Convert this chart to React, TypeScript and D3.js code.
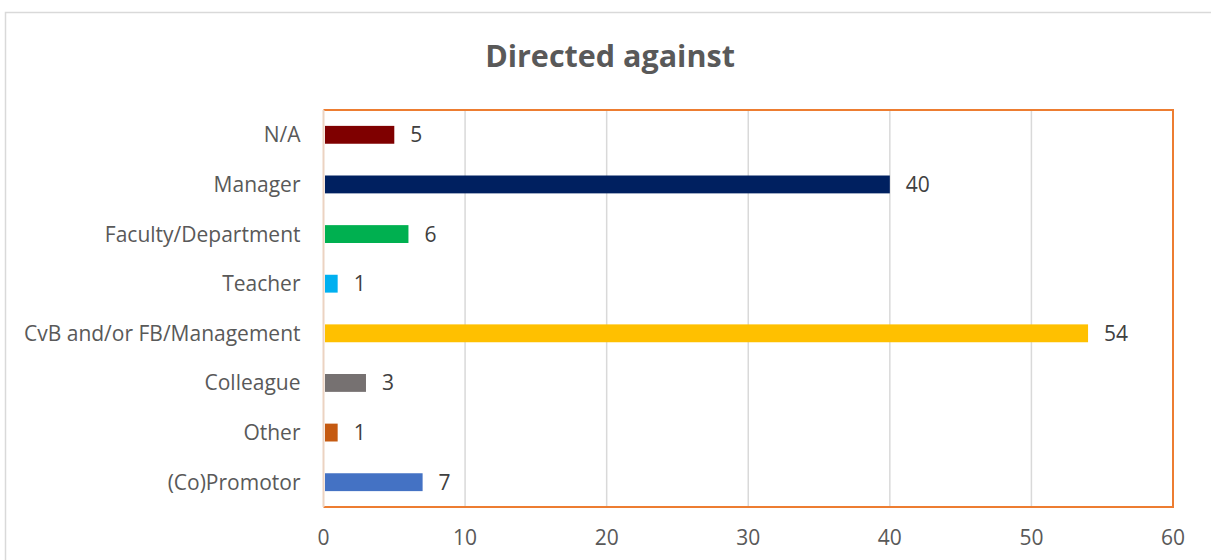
import React, { useEffect, useRef } from "react";
import * as d3 from "d3";

const categories = [
  "N/A",
  "Manager",
  "Faculty/Department",
  "Teacher",
  "CvB and/or FB/Management",
  "Colleague",
  "Other",
  "(Co)Promotor",
];
const values = [5, 40, 6, 1, 54, 3, 1, 7];
const colors = [
  "#7F0000",
  "#002060",
  "#00B050",
  "#00B0F0",
  "#FFC000",
  "#767171",
  "#C55A11",
  "#4472C4",
];
const xTicks = [0, 10, 20, 30, 40, 50, 60];
const title = "Directed against";

const App = () => {
  const svgRef = useRef<SVGSVGElement>(null);

  useEffect(() => {
    const width = 1211;
    const height = 560;
    const margin = { top: 110, right: 38, bottom: 53, left: 323.5 };
    const innerW = width - margin.left - margin.right;
    const innerH = height - margin.top - margin.bottom;
    const font = "'Open Sans', 'Noto Sans', sans-serif";
    const fs = 21;

    const root = d3.select(svgRef.current);
    root.selectAll("*").remove();
    root.attr("width", width).attr("height", height);

    // chart frame
    root
      .append("rect")
      .attr("x", 5.5)
      .attr("y", 12.5)
      .attr("width", width)
      .attr("height", height)
      .attr("fill", "#fff")
      .attr("stroke", "#d9d9d9")
      .attr("stroke-width", 1.5);

    root
      .append("text")
      .attr("x", 610)
      .attr("y", 67)
      .attr("text-anchor", "middle")
      .attr("font-family", font)
      .attr("font-weight", "bold")
      .attr("font-size", 30.5)
      .attr("fill", "#595959")
      .text(title);

    const svg = root
      .append("g")
      .attr("transform", `translate(${margin.left},${margin.top})`);

    const xScale = d3.scaleLinear().domain([0, 60]).range([0, innerW]);
    const yScale = d3
      .scaleBand()
      .domain(categories)
      .range([0, innerH])
      .paddingInner(0.64)
      .paddingOuter(0.32);

    // gridlines
    svg
      .selectAll(".grid")
      .data(xTicks.slice(1, -1))
      .enter()
      .append("line")
      .attr("x1", (d) => xScale(d))
      .attr("x2", (d) => xScale(d))
      .attr("y1", 0)
      .attr("y2", innerH)
      .attr("stroke", "#d9d9d9")
      .attr("stroke-width", 1.5);

    // bars
    svg
      .selectAll(".bar")
      .data(categories)
      .enter()
      .append("rect")
      .attr("x", xScale(0) + 1.5)
      .attr("y", (d) => yScale(d)!)
      .attr("width", (d, i) => xScale(values[i]) - xScale(0) - 1.5)
      .attr("height", yScale.bandwidth())
      .attr("fill", (d, i) => colors[i]);

    // value labels
    svg
      .selectAll(".val")
      .data(categories)
      .enter()
      .append("text")
      .attr("x", (d, i) => xScale(values[i]) + 16)
      .attr("y", (d) => yScale(d)! + yScale.bandwidth() / 2)
      .attr("dy", "0.36em")
      .attr("font-family", font)
      .attr("font-size", fs)
      .attr("fill", "#404040")
      .text((d, i) => values[i]);

    // category labels
    svg
      .selectAll(".cat")
      .data(categories)
      .enter()
      .append("text")
      .attr("x", -23)
      .attr("y", (d) => yScale(d)! + yScale.bandwidth() / 2)
      .attr("dy", "0.36em")
      .attr("text-anchor", "end")
      .attr("font-family", font)
      .attr("font-size", fs)
      .attr("fill", "#595959")
      .text((d) => d);

    // x tick labels
    svg
      .selectAll(".tick")
      .data(xTicks)
      .enter()
      .append("text")
      .attr("x", (d) => xScale(d))
      .attr("y", innerH + 30)
      .attr("dy", "0.36em")
      .attr("text-anchor", "middle")
      .attr("font-family", font)
      .attr("font-size", fs)
      .attr("fill", "#595959")
      .text((d) => d);

    // plot area border (orange), left axis pale
    svg
      .append("path")
      .attr("d", `M0,0H${innerW}V${innerH}H0`)
      .attr("fill", "none")
      .attr("stroke", "#ED7D31")
      .attr("stroke-width", 2);
    svg
      .append("line")
      .attr("x1", 0)
      .attr("x2", 0)
      .attr("y1", 0)
      .attr("y2", innerH)
      .attr("stroke", "#ecd3c2")
      .attr("stroke-width", 2);
  }, []);

  return (
    <div style={{ position: "absolute", left: 0, top: 0 }}>
      <svg ref={svgRef}></svg>
    </div>
  );
};

export default App;
